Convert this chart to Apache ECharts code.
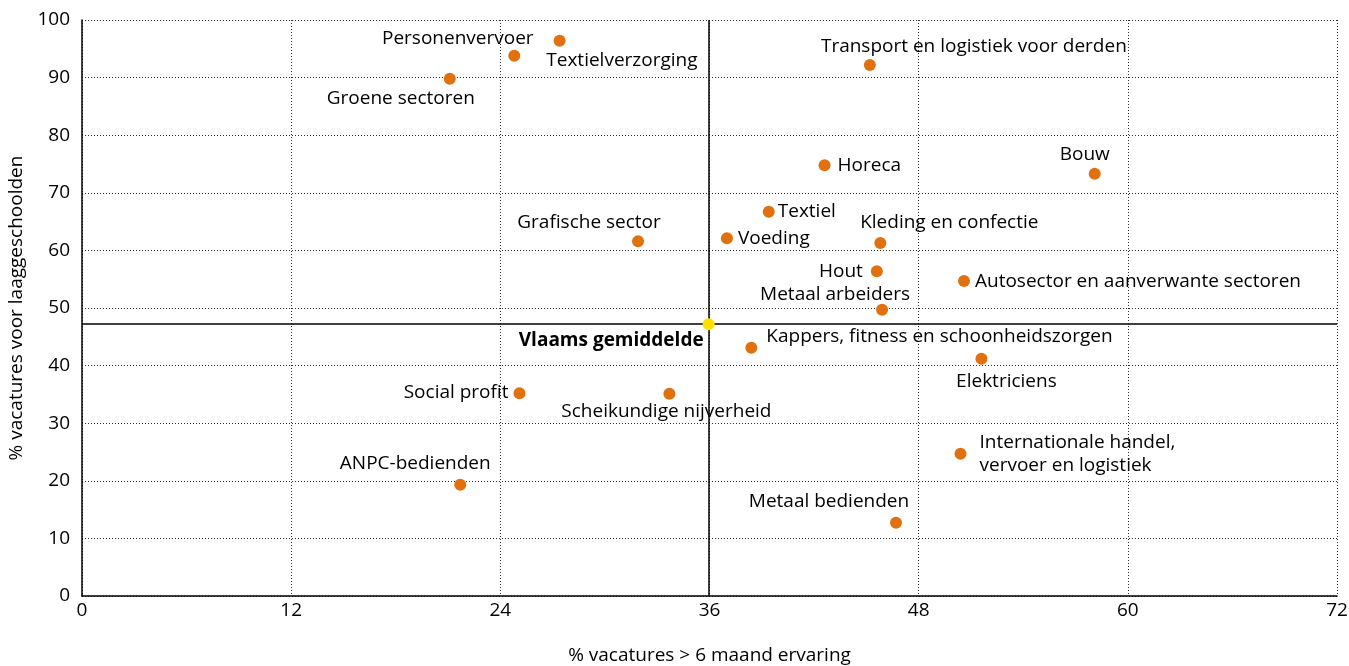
<!DOCTYPE html>
<html style="height: 100%">
<head>
    <meta charset="utf-8">
</head>
<body style="height: 100%; margin: 0; background-color: #fff;">
<div id="container" style="height: 100%"></div>
<script type="text/javascript" src="https://cdn.jsdelivr.net/npm/echarts@6/dist/echarts.min.js"></script>
<script type="text/javascript">
    var sectors = ['Personenvervoer', 'Textielverzorging', 'Groene sectoren', 'Transport en logistiek voor derden',
        'Horeca', 'Bouw', 'Textiel', 'Voeding', 'Grafische sector', 'Kleding en confectie', 'Hout',
        'Autosector en aanverwante sectoren', 'Metaal arbeiders', 'Kappers, fitness en schoonheidszorgen',
        'Elektriciens', 'Social profit', 'Scheikundige nijverheid', 'ANPC-bedienden',
        'Internationale handel,\nvervoer en logistiek', 'Metaal bedienden'];
    var ervaring = [27.4, 24.8, 21.1, 45.2, 42.6, 58.1, 39.4, 37.0, 31.9, 45.8, 45.6,
        50.6, 45.9, 38.4, 51.6, 25.1, 33.7, 21.7, 50.4, 46.7];
    var laaggeschoold = [96.4, 93.8, 89.8, 92.2, 74.8, 73.3, 66.7, 62.1, 61.6, 61.3, 56.4,
        54.7, 49.7, 43.1, 41.2, 35.2, 35.1, 19.3, 24.7, 12.7];
    // label placement per sector: [position, offsetX, offsetY]
    var labelPos = [['left', -15, -2], ['right', 21, 5], ['bottom', -49, -3], ['top', 104, 4],
        ['right', 2, 0], ['top', -10, 3], ['right', -2, 0], ['right', 0, 0], ['top', -49, 4],
        ['top', 69, 2], ['left', -3, 0], ['right', 0, 1], ['top', -47, 7], ['right', 4, -11],
        ['bottom', 25, 0], ['left', 0, -1], ['bottom', -3, -5], ['top', -45, 1],
        ['right', 8, 0], ['top', -67, 1]];
    var gemiddeldeX = 35.95;
    var gemiddeldeY = 47.2;

    var font = 'Open Sans';
    var fs = 19;
    var dom = document.getElementById('container');
    var myChart = echarts.init(dom);

    var points = sectors.map(function (name, i) {
        var lp = labelPos[i];
        return {
            name: name,
            value: [ervaring[i], laaggeschoold[i]],
            label: {position: lp[0], offset: [lp[1], lp[2]], align: lp[0] === 'right' ? 'left' : undefined}
        };
    });

    var option = {
        animation: false,
        textStyle: {fontFamily: font},
        grid: {left: 82, right: 12, top: 20, bottom: 70, outerBoundsMode: 'none', containLabel: false},
        xAxis: {
            type: 'value', min: 0, max: 72, interval: 12,
            name: '% vacatures > 6 maand ervaring', nameLocation: 'middle', nameGap: 50,
            nameTextStyle: {color: '#000', fontSize: fs, fontFamily: font},
            axisLine: {lineStyle: {color: '#000', width: 1.5}},
            axisTick: {show: false},
            axisLabel: {color: '#000', fontSize: fs, margin: 5, fontFamily: font},
            splitLine: {lineStyle: {color: '#333', type: [1, 2], width: 1}}
        },
        yAxis: {
            type: 'value', min: 0, max: 100, interval: 10,
            name: '% vacatures voor laaggeschoolden', nameLocation: 'middle', nameGap: 54,
            nameTextStyle: {color: '#000', fontSize: fs, fontFamily: font},
            axisLine: {show: true, lineStyle: {color: '#000', width: 1.5}},
            axisTick: {show: false},
            axisLabel: {color: '#000', fontSize: fs, margin: 12, fontFamily: font},
            splitLine: {lineStyle: {color: '#333', type: [1, 2], width: 1}}
        },
        series: [
            {
                type: 'scatter',
                symbolSize: 12,
                itemStyle: {color: '#E1700F', opacity: 1},
                label: {show: true, formatter: '{b}', color: '#000', fontSize: fs, fontFamily: font, lineHeight: 23},
                data: points,
                markLine: {
                    silent: true,
                    symbol: 'none',
                    label: {show: false},
                    lineStyle: {color: '#000', type: 'solid', width: 1.5},
                    data: [{xAxis: gemiddeldeX}, {yAxis: gemiddeldeY}]
                },
                z: 3
            },
            {
                type: 'scatter',
                symbolSize: 12,
                itemStyle: {color: '#FFE000', opacity: 1},
                label: {
                    show: true, formatter: 'Vlaams gemiddelde', position: 'left', offset: [6, 16],
                    color: '#000', fontSize: fs, fontWeight: 'bold', fontFamily: font
                },
                data: [[gemiddeldeX, gemiddeldeY]],
                z: 10
            }
        ]
    };
    myChart.setOption(option);
</script>
</body>
</html>
